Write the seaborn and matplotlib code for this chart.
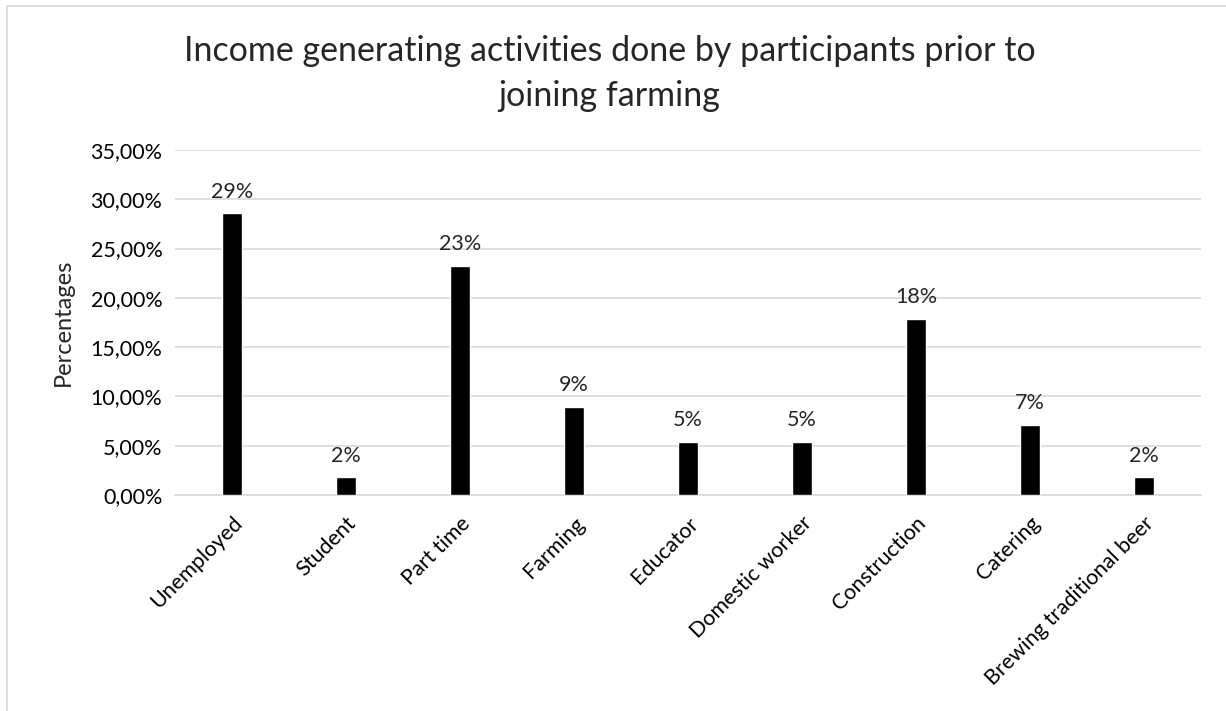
import matplotlib
matplotlib.use("Agg")
import matplotlib.pyplot as plt
import matplotlib.patches as mpatches
from matplotlib.ticker import FuncFormatter, MultipleLocator
import seaborn as sns
import pandas as pd

categories = ["Unemployed", "Student", "Part time", "Farming", "Educator",
              "Domestic worker", "Construction", "Catering",
              "Brewing traditional beer"]
shares = [28.57, 1.79, 23.21, 8.93, 5.36, 5.36, 17.86, 7.14, 1.79]
title = "Income generating activities done by participants prior to\njoining farming"
y_label = "Percentages"

sns.set_theme(style="white")
plt.rcParams["font.family"] = ["Lato", "DejaVu Sans"]

df = pd.DataFrame({"activity": categories, "share": shares})

fig = plt.figure(figsize=(12.26, 7.11), dpi=100)
ax = fig.add_axes([0.1427, 0.3038, 0.8369, 0.4852])

sns.barplot(data=df, x="activity", y="share", color="black", width=0.175,
            saturation=1, ax=ax, zorder=3)

ax.set_ylim(0, 35)
ax.set_xlim(-0.5, len(categories) - 0.5)
ax.yaxis.set_major_locator(MultipleLocator(5))
ax.yaxis.set_major_formatter(FuncFormatter(lambda v, p: f"{v:.2f}%".replace(".", ",")))
ax.grid(axis="y", color="#d9d9d9", linewidth=1.2, zorder=0)
for s in ["top", "right", "left"]:
    ax.spines[s].set_visible(False)
ax.spines["bottom"].set_color("#d9d9d9")
ax.spines["bottom"].set_linewidth(1.2)
ax.tick_params(axis="both", length=0, labelsize=15.5, colors="#000000")
ax.tick_params(axis="y", pad=9)
ax.tick_params(axis="x", pad=13)

ax.set_xlabel("")
ax.set_ylabel(y_label, fontsize=17, labelpad=12)
plt.setp(ax.get_xticklabels(), rotation=45, ha="right", rotation_mode="anchor")

for i, v in enumerate(shares):
    ax.text(i, v + 1.2, f"{v:.0f}%", ha="center", va="bottom", fontsize=15.5)

fig.suptitle(title, fontsize=24.5, y=0.951, x=0.497, va="top", linespacing=1.5)

border = mpatches.Rectangle((0.0057, -0.02), 1.1, 1.012,
                            transform=fig.transFigure, fill=False,
                            edgecolor="#d9d9d9", linewidth=1.2, clip_on=False)
fig.patches.append(border)

fig.savefig("out.png", dpi=100)
